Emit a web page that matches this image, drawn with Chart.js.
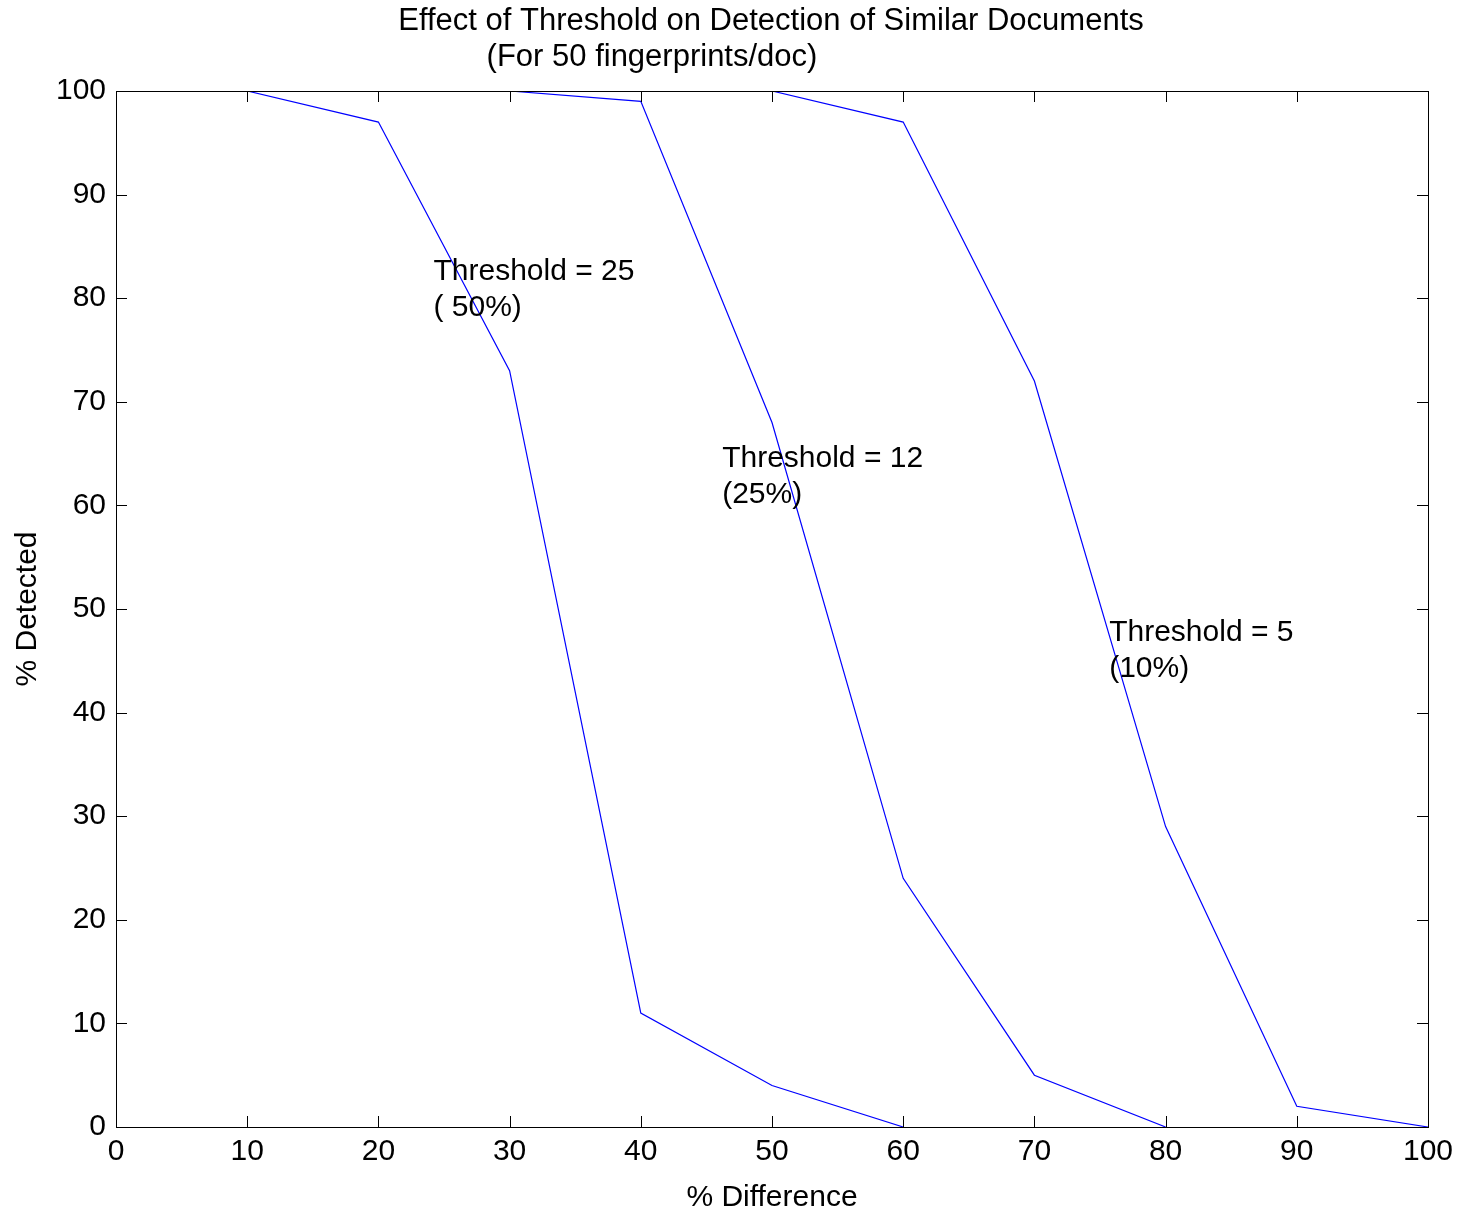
<!DOCTYPE html>
<html><head><meta charset="utf-8">
<script src="https://cdn.jsdelivr.net/npm/chart.js@4/dist/chart.umd.min.js"></script>
<style>html,body{margin:0;padding:0;background:#fff}canvas{display:block}</style>
</head><body>
<canvas id="c" width="1462" height="1212"></canvas>
<script>
const titleLines = ["Effect of Threshold on Detection of Similar Documents", "(For 50 fingerprints/doc)"];
const xLabel = "% Difference";
const yLabel = "% Detected";
const xTicks = [0,10,20,30,40,50,60,70,80,90,100];
const yTicks = [0,10,20,30,40,50,60,70,80,90,100];

const t25X = [10, 20, 30, 40, 50, 60];
const t25Y = [100, 97, 73, 11, 4, 0];
const t12X = [30, 40, 50, 60, 70, 80];
const t12Y = [100, 99, 68, 24, 5, 0];
const t5X  = [50, 60, 70, 80, 90, 100];
const t5Y  = [100, 97, 72, 29, 2, 0];

const annTexts = [["Threshold = 25", "( 50%)"], ["Threshold = 12", "(25%)"], ["Threshold = 5", "(10%)"]];
const annX = [24.2, 46.2, 75.7];
const annY = [82.6, 64.5, 47.7];

const toPts = (xs, ys) => xs.map((x, i) => ({x: x, y: ys[i]}));
const FONT = "Arial, 'Liberation Sans', sans-serif";
const FS = 30;

const decor = {
  id: 'decor',
  afterDatasetsDraw(chart) {
    const ctx = chart.ctx, a = chart.chartArea, xs = chart.scales.x, ys = chart.scales.y;
    ctx.save();
    ctx.strokeStyle = '#000'; ctx.lineWidth = 1;
    ctx.strokeRect(Math.round(a.left) + 0.5, Math.round(a.top) + 0.5, Math.round(a.right - a.left), Math.round(a.bottom - a.top));
    const L = 11;
    ctx.beginPath();
    xTicks.forEach(v => {
      const p = Math.round(xs.getPixelForValue(v)) + 0.5;
      ctx.moveTo(p, a.bottom); ctx.lineTo(p, a.bottom - L);
      ctx.moveTo(p, a.top); ctx.lineTo(p, a.top + L);
    });
    yTicks.forEach(v => {
      const p = Math.round(ys.getPixelForValue(v)) + 0.5;
      ctx.moveTo(a.left, p); ctx.lineTo(a.left + L, p);
      ctx.moveTo(a.right, p); ctx.lineTo(a.right - L, p);
    });
    ctx.stroke();
    ctx.fillStyle = '#000';
    ctx.font = FS + 'px ' + FONT;
    ctx.textAlign = 'left'; ctx.textBaseline = 'middle';
    annTexts.forEach((lines, i) => {
      const px = xs.getPixelForValue(annX[i]), py = ys.getPixelForValue(annY[i]);
      lines.forEach((s, j) => ctx.fillText(s, px, py + j * 36));
    });
    ctx.textAlign = 'center';
    ctx.font = '31px ' + FONT;
    ctx.fillText(titleLines[0], 771, 21);
    ctx.fillText(titleLines[1], 652, 57);
    ctx.restore();
  }
};

new Chart(document.getElementById('c'), {
  type: 'line',
  data: {
    datasets: [
      {label: 'Threshold = 25', data: toPts(t25X, t25Y)},
      {label: 'Threshold = 12', data: toPts(t12X, t12Y)},
      {label: 'Threshold = 5', data: toPts(t5X, t5Y)}
    ].map(d => Object.assign(d, {borderColor: '#0000ff', borderWidth: 1.2, pointRadius: 0, tension: 0, fill: false}))
  },
  options: {
    responsive: false, animation: false,
    layout: {padding: {left: 0, top: 91, right: 34, bottom: 0}},
    plugins: {legend: {display: false}, title: {display: false}, tooltip: {enabled: false}},
    scales: {
      x: {
        type: 'linear', min: 0, max: 100,
        afterBuildTicks: s => { s.ticks = xTicks.map(v => ({value: v})); },
        afterFit: s => { s.height = 85; },
        grid: {display: false, drawTicks: false},
        border: {display: false},
        ticks: {color: '#000', font: {size: FS, family: FONT}, padding: 7, maxRotation: 0, autoSkip: false},
        title: {display: true, text: xLabel, color: '#000', font: {size: FS, family: FONT}, padding: {top: 0, bottom: -4}}
      },
      y: {
        type: 'linear', min: 0, max: 100,
        afterBuildTicks: s => { s.ticks = yTicks.map(v => ({value: v})); },
        afterFit: s => { s.width = 116; },
        grid: {display: false, drawTicks: false},
        border: {display: false},
        ticks: {color: '#000', font: {size: FS, family: FONT}, padding: 10, autoSkip: false},
        title: {display: true, text: yLabel, color: '#000', font: {size: FS, family: FONT}, padding: {top: 10, bottom: 0}}
      }
    }
  },
  plugins: [decor]
});
</script>
</body></html>
